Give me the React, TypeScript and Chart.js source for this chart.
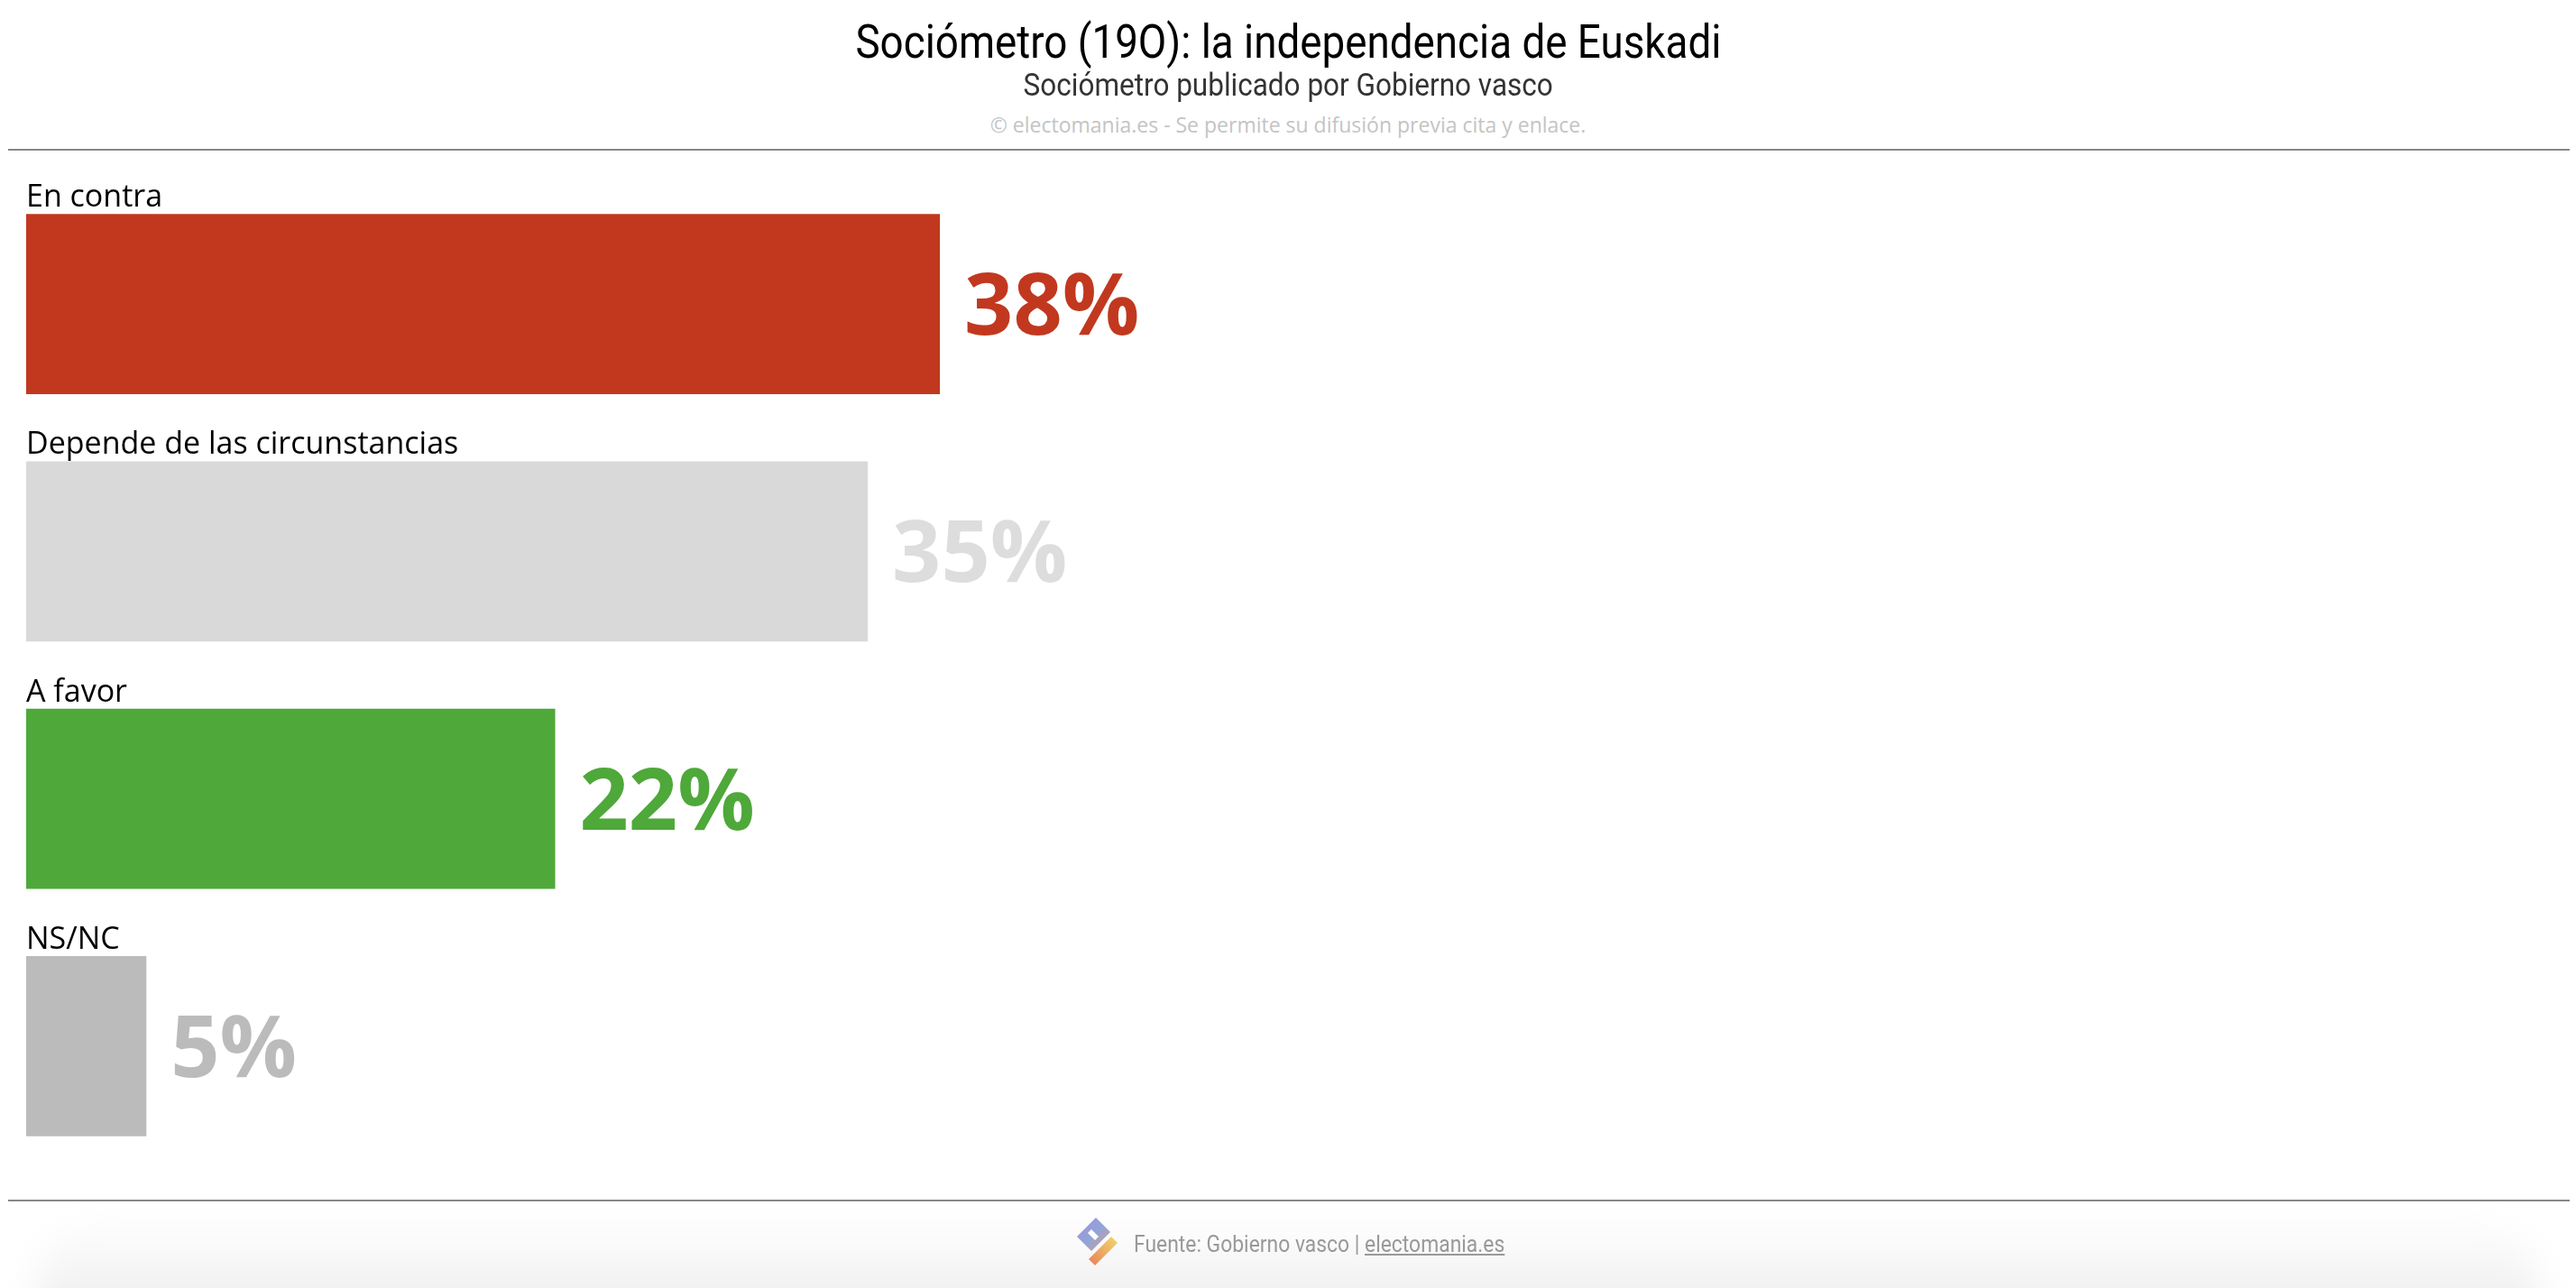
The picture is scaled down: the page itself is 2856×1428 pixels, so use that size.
import React, { useEffect, useRef } from "react";
import { Chart, registerables } from "chart.js";

Chart.register(...registerables);

const categories = ["En contra", "Depende de las circunstancias", "A favor", "NS/NC"];
const values = [38, 35, 22, 5];
const barColors = ["#C1381F", "#D9D9D9", "#4EA83A", "#BBBBBB"];
const valueLabelColors = ["#C1381F", "#DDDDDD", "#4EA83A", "#BBBBBB"];

const TITLE = "Sociómetro (19O): la independencia de Euskadi";
const SUBTITLE = "Sociómetro publicado por Gobierno vasco";
const COPYRIGHT = "© electomania.es - Se permite su difusión previa cita y enlace.";
const SOURCE = "Fuente: Gobierno vasco | ";
const SITE = "electomania.es";

const barLabelPlugin = {
  id: "barLabels",
  afterDatasetsDraw(chart: any) {
    const ctx = chart.ctx;
    const meta = chart.getDatasetMeta(0);
    meta.data.forEach((bar: any, i: number) => {
      const p = bar.getProps(["x", "y", "base", "height"], true);
      const top = p.y - p.height / 2;
      ctx.save();
      ctx.textAlign = "left";
      ctx.textBaseline = "alphabetic";
      ctx.font = '34px "Open Sans"';
      ctx.fillStyle = "#000000";
      ctx.fillText(categories[i], p.base, top - 8);
      ctx.font = 'bold 95px "Open Sans"';
      ctx.fillStyle = valueLabelColors[i];
      ctx.fillText(values[i] + "%", p.x + 27, p.y + 34);
      ctx.restore();
    });
  },
};

function Logo() {
  return (
    <svg width="56" height="56" viewBox="0 0 56 56" style={{ position: "absolute", left: 1190, top: 1349 }}>
      <defs>
        <linearGradient id="lg1" x1="0" y1="0" x2="1" y2="1">
          <stop offset="0" stopColor="#a98be0" />
          <stop offset="0.5" stopColor="#8fa6d8" />
          <stop offset="1" stopColor="#d99a8a" />
        </linearGradient>
        <linearGradient id="lg2" x1="1" y1="0" x2="0" y2="1">
          <stop offset="0" stopColor="#f0d870" />
          <stop offset="1" stopColor="#e8805a" />
        </linearGradient>
      </defs>
      <polygon points="25,1 41,17 20,38 4,22" fill="url(#lg1)" />
      <polygon points="20,14 28,22 24,26 16,18" fill="#ffffff" />
      <polygon points="42,22 49,29 24,54 17,47" fill="url(#lg2)" />
    </svg>
  );
}

export default function App() {
  const canvasRef = useRef<HTMLCanvasElement | null>(null);

  useEffect(() => {
    if (!canvasRef.current) return;
    const chart = new Chart(canvasRef.current, {
      type: "bar",
      data: {
        labels: categories,
        datasets: [
          {
            data: values,
            backgroundColor: barColors,
            borderWidth: 0,
            categoryPercentage: 1,
            barPercentage: 0.729,
          },
        ],
      },
      options: {
        indexAxis: "y",
        responsive: false,
        animation: false,
        devicePixelRatio: 1,
        layout: { padding: { left: 29, right: 161, top: 20, bottom: 3 } },
        scales: {
          x: { display: false, min: 0, max: 100 },
          y: { display: false },
        },
        plugins: {
          legend: { display: false },
          tooltip: { enabled: false },
          title: { display: false },
        },
      },
      plugins: [barLabelPlugin],
    });
    return () => chart.destroy();
  }, []);

  const center: React.CSSProperties = {
    position: "absolute",
    left: 0,
    width: 2856,
    textAlign: "center",
    whiteSpace: "nowrap",
    lineHeight: 1,
  };

  return (
    <div
      style={{
        position: "absolute",
        left: 0,
        top: 0,
        width: 2856,
        height: 1428,
        overflow: "hidden",
        background: "#ffffff",
      }}
    >
      <div
        style={{
          position: "absolute",
          left: 40,
          right: 40,
          top: 1350,
          height: 160,
          borderRadius: 80,
          background: "linear-gradient(to bottom, rgba(255,255,255,0), #e4e4e4)",
          filter: "blur(18px)",
        }}
      />
      <div style={{ ...center, top: 21, fontFamily: "Roboto", fontSize: 52, color: "#000" }}>
        <span style={{ display: "inline-block", transform: "scaleX(0.88)" }}>{TITLE}</span>
      </div>
      <div style={{ ...center, top: 77, fontFamily: "Roboto", fontSize: 35, color: "#333" }}>
        <span style={{ display: "inline-block", transform: "scaleX(0.9)" }}>{SUBTITLE}</span>
      </div>
      <div style={{ ...center, top: 127, fontFamily: "'Open Sans'", fontSize: 23, color: "#c4c4c4" }}>
        {COPYRIGHT}
      </div>
      <div style={{ position: "absolute", left: 9, width: 2840, top: 165, height: 2, background: "#888" }} />
      <canvas
        ref={canvasRef}
        width={2856}
        height={1120}
        style={{ position: "absolute", left: 0, top: 180, width: 2856, height: 1120 }}
      />
      <div style={{ position: "absolute", left: 9, width: 2840, top: 1330, height: 2, background: "#888" }} />
      <Logo />
      <div
        style={{
          position: "absolute",
          left: 1257,
          top: 1366,
          fontFamily: "Roboto",
          fontSize: 26,
          lineHeight: 1,
          color: "#999",
          whiteSpace: "nowrap",
          transform: "scaleX(0.88)",
          transformOrigin: "left center",
        }}
      >
        {SOURCE}
        <span style={{ textDecoration: "underline" }}>{SITE}</span>
      </div>
    </div>
  );
}
